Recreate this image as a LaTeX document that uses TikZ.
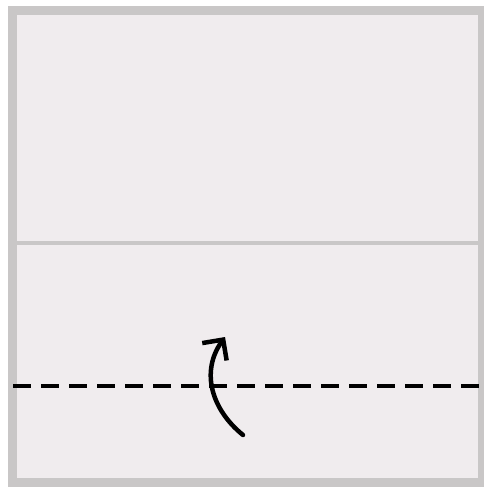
\documentclass[tikz,border=0pt]{standalone}
\usetikzlibrary{arrows.meta}

\definecolor{papergray}{HTML}{F0ECEE}
\definecolor{edgegray}{HTML}{C9C7C7}

\begin{document}
\begin{tikzpicture}[
        x=1pt, y=-1pt,
        paper/.style={draw=edgegray, line width=9pt, fill=papergray},
        crease/.style={draw=edgegray, line width=4.5pt},
        foldline/.style={line width=4.5pt, dash pattern=on 18pt off 10pt},
        foldarrow/.style={line width=4.5pt, line cap=round, -{Straight Barb[length=15pt, width=30pt, line width=4.5pt]}}
    ]
        \useasboundingbox (0,0) rectangle (484,488);

        % Sheet of paper
        \draw[paper] (12.5,10) rectangle (482,482.5);

        % Crease across the sheet
        \coordinate (creaseL) at (12.5,243);
        \coordinate (creaseR) at (482,243);
        \draw[crease] (creaseL) -- (creaseR);

        % Valley fold line
        \coordinate (foldL) at (13,386);
        \coordinate (foldR) at (484,386);
        \draw[foldline] (foldL) -- (foldR);

        % Fold up arrow
        \coordinate (arrowStart) at (243,435);
        \coordinate (arrowEnd) at (225,337);
        \draw[foldarrow] (arrowStart) .. controls (212,410) and (200,372) .. (arrowEnd);
    \end{tikzpicture}
\end{document}
